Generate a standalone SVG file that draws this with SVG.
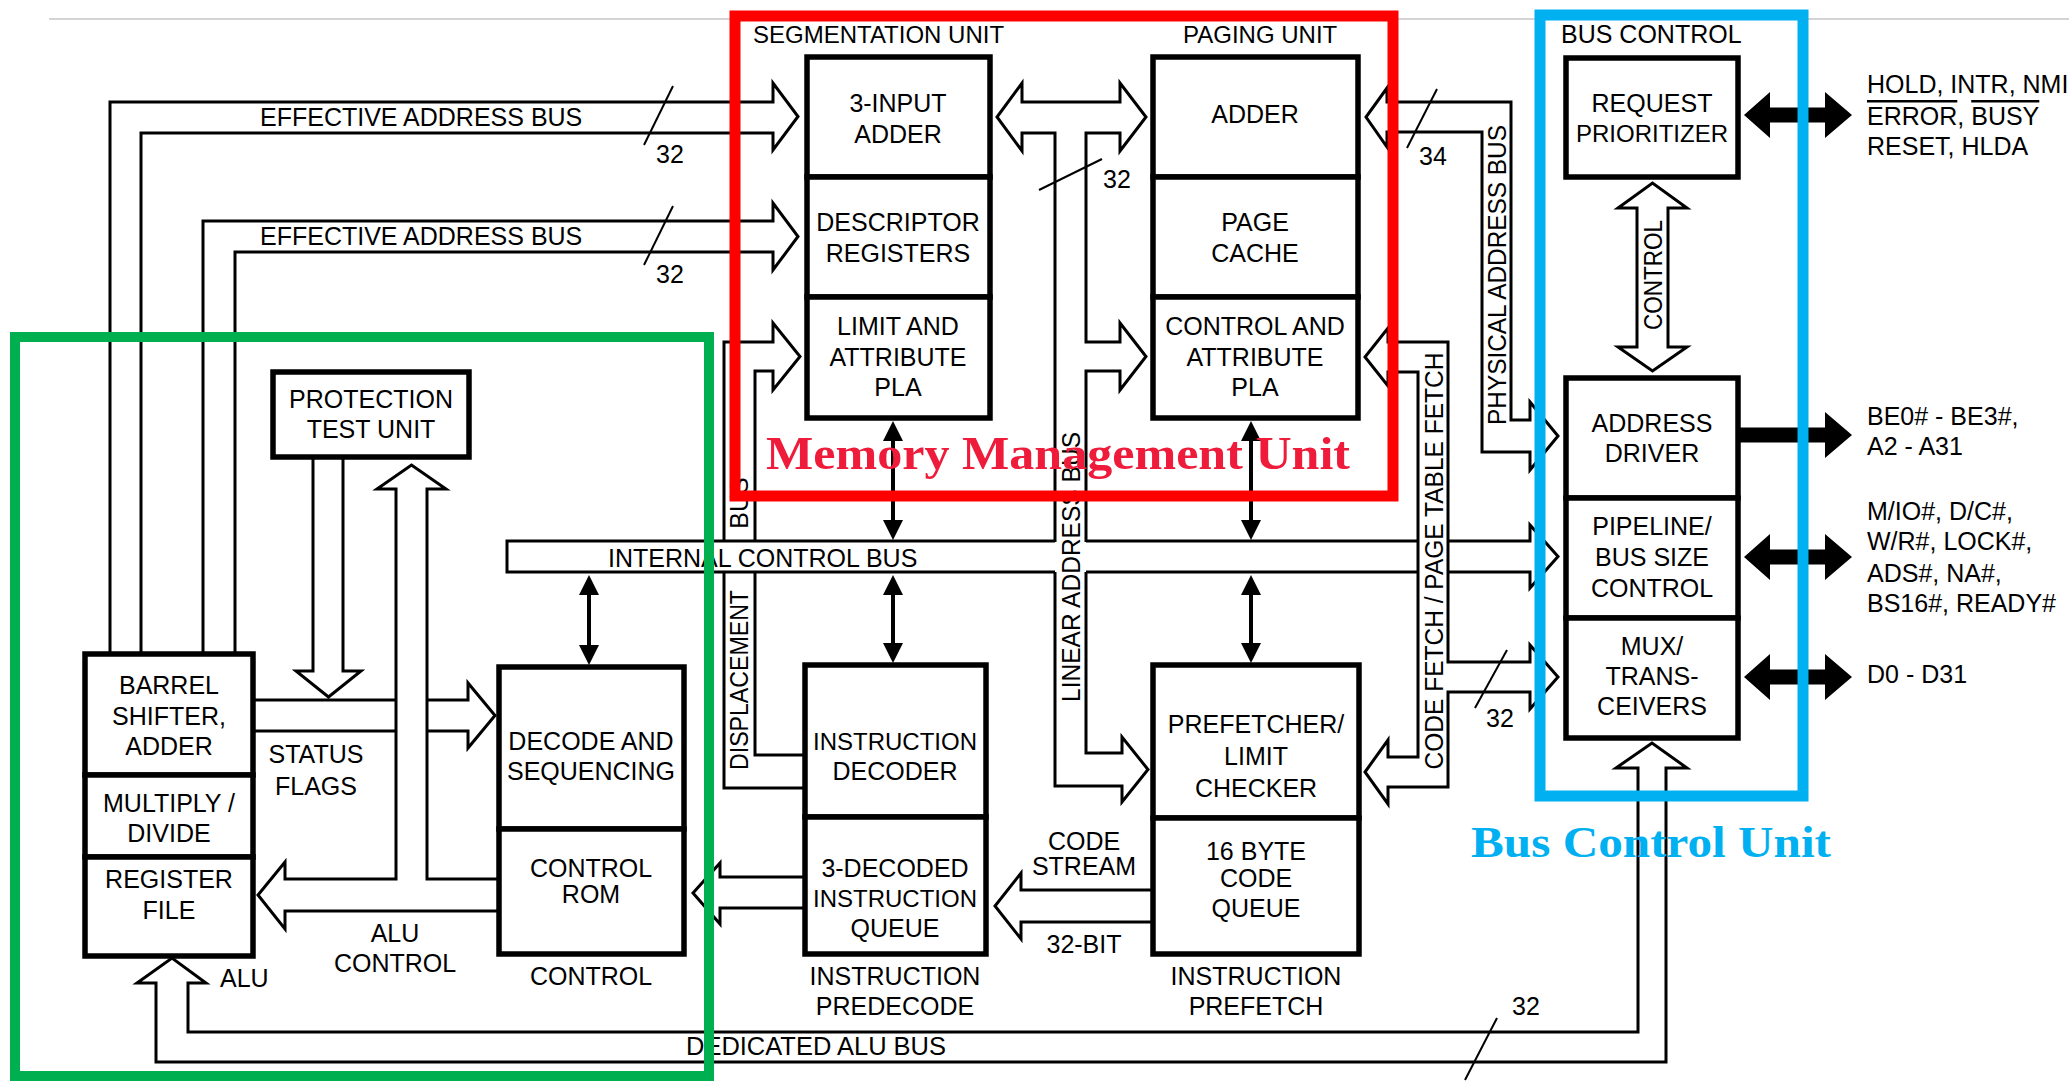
<svg xmlns="http://www.w3.org/2000/svg" width="2069" height="1081" viewBox="0 0 2069 1081">
<defs>
<style>
.box{fill:#fff;stroke:#000;stroke-width:5.5}
.div{fill:none;stroke:#000;stroke-width:5}
.bus{fill:none;stroke:#000;stroke-width:3;stroke-linejoin:miter}
.hb{fill:#fff;stroke:#000;stroke-width:3;stroke-linejoin:miter}
.sl{stroke:#000;stroke-width:2}
.dbl{stroke:#000;stroke-width:4;marker-start:url(#ah);marker-end:url(#ah)}
.t{font-family:"Liberation Sans",Arial,sans-serif;font-size:25px;fill:#000}
.c{text-anchor:middle}
.n{font-size:24px}
.big{font-family:"Liberation Serif","Times New Roman",serif;font-weight:bold}
</style>
<marker id="ah" viewBox="0 0 20 20" refX="16" refY="10" markerWidth="20" markerHeight="20" markerUnits="userSpaceOnUse" orient="auto-start-reverse"><path d="M0,0 L20,10 L0,20 Z" fill="#000"/></marker>
<path id="dblarrow" d="M0,0 L26,-23 L26,-7.5 L81,-7.5 L81,-23 L108,0 L81,23 L81,7.5 L26,7.5 L26,23 Z" fill="#000"/>
</defs>
<rect width="2069" height="1081" fill="#fff"/>
<line x1="49" y1="19" x2="2069" y2="19" stroke="#d4d4d4" stroke-width="2"/>

<g id="connectors">
  <path class="bus" d="M110,654 V102 H773 V83 L798,116.5 L773,150 V133 H141 V654"/>
  <path class="bus" d="M203,654 V221 H773 V203 L798,236.5 L773,270 V252 H235 V654"/>
  <path class="bus" d="M724,542 V342 H773 V323 L800,356.5 L773,390 V371 H755 V542"/>
  <path class="bus" d="M724,572 V788 H805 M755,572 V755 H805"/>
  <path class="bus" d="M1055,542 V133 H1022 V151 L997,117 L1022,83 V102 H1120 V83 L1146,117 L1120,151 V133 H1086 V342 H1120 V323 L1146,356.5 L1120,390 V371 H1086 V542"/>
  <path class="bus" d="M1086,572 V753 H1122 V737 L1148,769.5 L1122,802 V786 H1055 V572"/>
  <path class="bus" d="M1387,102 V88 L1366,117 L1387,147 V132 H1482 V452 H1530 V470 L1558,436 L1530,402 V420 H1511 V102 Z"/>
  <path class="bus" d="M1388,342 V328 L1365,357 L1388,386 V372 H1418 V757 H1388 V740 L1365,772 L1388,804 V787 H1448 V692 H1530 V709 L1558,677 L1530,645 V662 H1448 V342 Z"/>
  <path class="bus" d="M1055,541 H507 V572 H1055 M1086,541 H1418 M1086,572 H1418 M1448,541 H1530 V525 L1558,556.5 L1530,588 V572 H1448"/>
  <path class="bus" d="M313,457 V671 H296 L328.5,697 L361,671 H343 V457"/>
  <path class="bus" d="M253,700 H396 M427,700 H468 V683 L495,715.5 L468,748 V731 H427 M396,731 H253"/>
  <path class="bus" d="M499,879 H427 V489 H446 L411.5,465 L377,489 H396 V879 H285 V862 L258,895 L285,929 V911 H499"/>
  <path class="bus" d="M803,877 H720 V863 L693,893 L720,924 V908 H803"/>
  <path class="bus" d="M1153,890 H1021 V873 L995,906 L1021,939 V922 H1153"/>
  <path class="bus" d="M156,1062 V983 H137 L172,958 L206,983 H188 V1032 H1638 V768 H1616 L1652,743 L1687,768 H1666 V1062 Z"/>
  <path class="hb" d="M1637,208 H1618 L1652.5,183 L1687,208 H1668 V347 H1687 L1652.5,371 L1618,347 H1637 Z"/>
  <line class="sl" x1="673" y1="86" x2="644" y2="145"/>
  <line class="sl" x1="673" y1="206" x2="644" y2="265"/>
  <line class="sl" x1="1102" y1="159" x2="1039" y2="190"/>
  <line class="sl" x1="1437" y1="89" x2="1407" y2="148"/>
  <line class="sl" x1="1507" y1="650" x2="1475" y2="708"/>
  <line class="sl" x1="1497" y1="1018" x2="1465" y2="1080"/>
  <line class="dbl" x1="893" y1="425" x2="893" y2="536"/>
  <line class="dbl" x1="893" y1="579" x2="893" y2="659"/>
  <line class="dbl" x1="1251" y1="425" x2="1251" y2="536"/>
  <line class="dbl" x1="1251" y1="579" x2="1251" y2="659"/>
  <line class="dbl" x1="589" y1="579" x2="589" y2="661"/>
  <use href="#dblarrow" transform="translate(1744,115)"/>
  <path d="M1738,427.5 H1825 V412 L1852,435 L1825,458 V442.5 H1738 Z" fill="#000"/>
  <use href="#dblarrow" transform="translate(1744,557)"/>
  <use href="#dblarrow" transform="translate(1744,677)"/>
</g>

<g id="bus-labels" class="t">
  <text x="260" y="126">EFFECTIVE ADDRESS BUS</text>
  <text x="260" y="245">EFFECTIVE ADDRESS BUS</text>
  <text class="c" x="670" y="163">32</text>
  <text class="c" x="670" y="283">32</text>
  <text class="c" x="1117" y="188">32</text>
  <text class="c" x="1433" y="165">34</text>
  <text class="c" x="1500" y="727">32</text>
  <text class="c" x="1526" y="1015">32</text>
  <text x="608" y="567">INTERNAL CONTROL BUS</text>
  <text class="c" x="316" y="763">STATUS</text>
  <text class="c" x="316" y="795">FLAGS</text>
  <text class="c" x="395" y="942">ALU</text>
  <text class="c" x="395" y="972">CONTROL</text>
  <text x="220" y="987">ALU</text>
  <text class="c" x="1084" y="850">CODE</text>
  <text class="c" x="1084" y="875">STREAM</text>
  <text class="c" x="1084" y="953">32-BIT</text>
  <text x="686" y="1055" textLength="260" lengthAdjust="spacingAndGlyphs">DEDICATED ALU BUS</text>
  <text class="c" transform="translate(1506,275) rotate(-90)" textLength="300" lengthAdjust="spacingAndGlyphs">PHYSICAL ADDRESS BUS</text>
  <text class="c" transform="translate(1443,561) rotate(-90)" textLength="417" lengthAdjust="spacingAndGlyphs">CODE FETCH / PAGE TABLE FETCH</text>
  <text class="c" transform="translate(1080,567) rotate(-90)" textLength="270" lengthAdjust="spacingAndGlyphs">LINEAR ADDRESS BUS</text>
  <text class="c" transform="translate(748,680) rotate(-90)" textLength="180" lengthAdjust="spacingAndGlyphs">DISPLACEMENT</text>
  <text class="c" transform="translate(748,503) rotate(-90)">BUS</text>
  <text class="c" transform="translate(1662,275) rotate(-90)" textLength="110" lengthAdjust="spacingAndGlyphs">CONTROL</text>
  <text x="1867" y="93">HOLD, INTR, NMI</text>
  <text x="1867" y="125"><tspan style="text-decoration:overline">ERROR</tspan>, <tspan style="text-decoration:overline">BUSY</tspan></text>
  <text x="1867" y="155">RESET, HLDA</text>
  <text x="1867" y="425">BE0# - BE3#,</text>
  <text x="1867" y="455">A2 - A31</text>
  <text x="1867" y="520">M/IO#, D/C#,</text>
  <text x="1867" y="550">W/R#, LOCK#,</text>
  <text x="1867" y="582">ADS#, NA#,</text>
  <text x="1867" y="612">BS16#, READY#</text>
  <text x="1867" y="683">D0 - D31</text>
</g>

<g id="segmentation-unit" class="t">
  <text x="753" y="43" style="font-size:24px">SEGMENTATION UNIT</text>
  <g id="three-input-adder"><rect class="box" x="807" y="57" width="183" height="120"/>
    <text class="c" x="898" y="112">3-INPUT</text><text class="c" x="898" y="143">ADDER</text></g>
  <g id="descriptor-registers"><rect class="box" x="807" y="177" width="183" height="120"/>
    <text class="c" x="898" y="231">DESCRIPTOR</text><text class="c" x="898" y="262">REGISTERS</text></g>
  <g id="limit-attribute-pla"><rect class="box" x="807" y="297" width="183" height="121"/>
    <text class="c" x="898" y="335">LIMIT AND</text><text class="c" x="898" y="366">ATTRIBUTE</text><text class="c" x="898" y="396">PLA</text></g>
</g>

<g id="paging-unit" class="t">
  <text x="1183" y="43" style="font-size:24px">PAGING UNIT</text>
  <g id="paging-adder"><rect class="box" x="1153" y="57" width="205" height="120"/>
    <text class="c" x="1255" y="123">ADDER</text></g>
  <g id="page-cache"><rect class="box" x="1153" y="177" width="205" height="120"/>
    <text class="c" x="1255" y="231">PAGE</text><text class="c" x="1255" y="262">CACHE</text></g>
  <g id="control-attribute-pla"><rect class="box" x="1153" y="297" width="205" height="121"/>
    <text class="c" x="1255" y="335">CONTROL AND</text><text class="c" x="1255" y="366">ATTRIBUTE</text><text class="c" x="1255" y="396">PLA</text></g>
</g>

<g id="bus-control" class="t">
  <text x="1561" y="43">BUS CONTROL</text>
  <g id="request-prioritizer"><rect class="box" x="1566" y="58" width="172" height="119"/>
    <text class="c" x="1652" y="112">REQUEST</text><text class="c n" x="1652" y="142">PRIORITIZER</text></g>
  <g id="address-driver"><rect class="box" x="1566" y="378" width="172" height="120"/>
    <text class="c" x="1652" y="432">ADDRESS</text><text class="c" x="1652" y="462">DRIVER</text></g>
  <g id="pipeline-bus-size"><rect class="box" x="1566" y="498" width="172" height="120"/>
    <text class="c" x="1652" y="535">PIPELINE/</text><text class="c" x="1652" y="566">BUS SIZE</text><text class="c" x="1652" y="597">CONTROL</text></g>
  <g id="mux-transceivers"><rect class="box" x="1566" y="618" width="172" height="120"/>
    <text class="c" x="1652" y="655">MUX/</text><text class="c" x="1652" y="685">TRANS-</text><text class="c" x="1652" y="715">CEIVERS</text></g>
</g>

<g id="protection-test-unit" class="t">
  <rect class="box" x="273" y="372" width="196" height="85"/>
  <text class="c" x="371" y="408">PROTECTION</text><text class="c" x="371" y="438">TEST UNIT</text>
</g>

<g id="alu" class="t">
  <g id="barrel-shifter"><rect class="box" x="85" y="654" width="168" height="121"/>
    <text class="c" x="169" y="694">BARREL</text><text class="c" x="169" y="725">SHIFTER,</text><text class="c" x="169" y="755">ADDER</text></g>
  <g id="multiply-divide"><rect class="box" x="85" y="775" width="168" height="82"/>
    <text class="c" x="169" y="812">MULTIPLY /</text><text class="c" x="169" y="842">DIVIDE</text></g>
  <g id="register-file"><rect class="box" x="85" y="857" width="168" height="99"/>
    <text class="c" x="169" y="888">REGISTER</text><text class="c" x="169" y="919">FILE</text></g>
</g>

<g id="control" class="t">
  <g id="decode-sequencing"><rect class="box" x="499" y="667" width="185" height="162"/>
    <text class="c" x="591" y="750">DECODE AND</text><text class="c" x="591" y="780">SEQUENCING</text></g>
  <g id="control-rom"><rect class="box" x="499" y="829" width="185" height="125"/>
    <text class="c" x="591" y="877">CONTROL</text><text class="c" x="591" y="903">ROM</text></g>
  <text class="c" x="591" y="985">CONTROL</text>
</g>

<g id="instruction-predecode" class="t">
  <g id="instruction-decoder"><rect class="box" x="805" y="665" width="181" height="152"/>
    <text class="c n" x="895" y="750">INSTRUCTION</text><text class="c" x="895" y="780">DECODER</text></g>
  <g id="decoded-queue"><rect class="box" x="805" y="817" width="181" height="137"/>
    <text class="c" x="895" y="877">3-DECODED</text><text class="c n" x="895" y="907">INSTRUCTION</text><text class="c" x="895" y="937">QUEUE</text></g>
  <text class="c" x="895" y="985">INSTRUCTION</text><text class="c" x="895" y="1015">PREDECODE</text>
</g>

<g id="instruction-prefetch" class="t">
  <g id="prefetcher"><rect class="box" x="1153" y="665" width="206" height="153"/>
    <text class="c" x="1256" y="733">PREFETCHER/</text><text class="c" x="1256" y="765">LIMIT</text><text class="c" x="1256" y="797">CHECKER</text></g>
  <g id="code-queue"><rect class="box" x="1153" y="818" width="206" height="136"/>
    <text class="c" x="1256" y="860">16 BYTE</text><text class="c" x="1256" y="887">CODE</text><text class="c" x="1256" y="917">QUEUE</text></g>
  <text class="c" x="1256" y="985">INSTRUCTION</text><text class="c" x="1256" y="1015">PREFETCH</text>
</g>

<g id="annotations">
  <rect x="735" y="16" width="658" height="480" fill="none" stroke="#ff0000" stroke-width="11"/>
  <rect x="1540" y="15" width="263" height="781" fill="none" stroke="#00b0f0" stroke-width="11"/>
  <rect x="15" y="337" width="694" height="739" fill="none" stroke="#00b050" stroke-width="10"/>
  <text class="big" x="766" y="469" textLength="584" lengthAdjust="spacingAndGlyphs" style="font-size:47px;fill:#ee1c3a">Memory Management Unit</text>
  <text class="big" x="1471" y="857" textLength="360" lengthAdjust="spacingAndGlyphs" style="font-size:45px;fill:#00b0f0">Bus Control Unit</text>
</g>
</svg>
